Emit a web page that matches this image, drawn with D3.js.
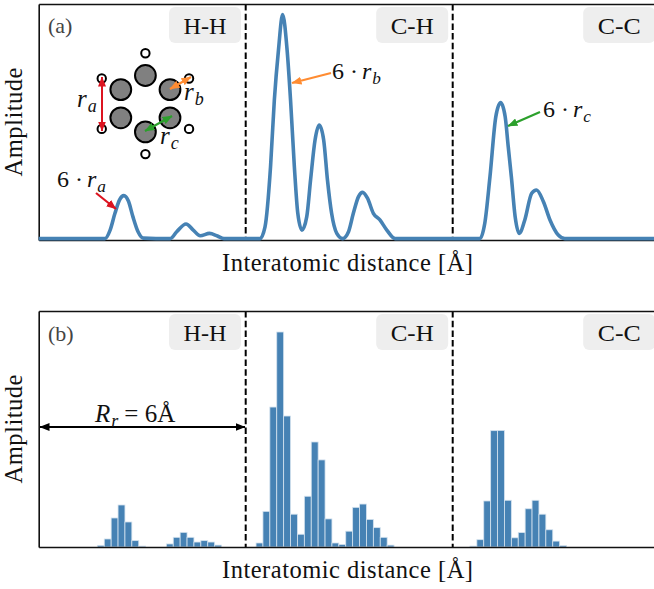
<!DOCTYPE html>
<html>
<head>
<meta charset="utf-8">
<script src="https://cdn.jsdelivr.net/npm/d3@7"></script>
<style>
  html, body { margin: 0; padding: 0; background: #fff; overflow: hidden; }
  text { font-family: "Liberation Serif", serif; fill: #111; }
</style>
</head>
<body>
<svg id="main" width="654" height="589"></svg>
<script>
// smooth spectrum (distance in angstrom, amplitude 0..1)
var curveDistance = [0, 1.0, 1.92, 2.07, 2.21, 2.34, 2.47, 2.60, 2.73, 2.88, 3.03, 3.4,
    3.81, 4.0, 4.27, 4.48, 4.68, 4.95, 5.18, 5.37, 5.9,
    6.415, 6.56, 6.72, 6.83, 6.95, 7.07, 7.2, 7.30, 7.41, 7.51, 7.63, 7.77, 7.88, 8.01, 8.13, 8.26, 8.37, 8.49, 8.64, 8.81,
    8.98, 9.12, 9.27, 9.39, 9.53, 9.7, 9.89, 10.09, 10.33, 11.5,
    12.79, 12.93, 13.08, 13.25, 13.39, 13.52, 13.61, 13.70, 13.81, 13.93, 14.09, 14.29, 14.43, 14.63, 14.82, 15.06, 15.25, 16.5, 18];
var curveAmplitude = [0.006, 0.006, 0.006, 0.042, 0.113, 0.169, 0.188, 0.165, 0.099, 0.035, 0.008, 0.006,
    0.006, 0.035, 0.068, 0.042, 0.018, 0.028, 0.017, 0.006, 0.006,
    0.006, 0.056, 0.311, 0.593, 0.805, 0.955, 0.805, 0.593, 0.311, 0.113, 0.042, 0.099, 0.254, 0.424, 0.487, 0.424, 0.254, 0.113, 0.028, 0.006,
    0.035, 0.113, 0.184, 0.202, 0.177, 0.113, 0.085, 0.042, 0.006, 0.006,
    0.006, 0.071, 0.268, 0.523, 0.582, 0.523, 0.395, 0.268, 0.099, 0.028, 0.085, 0.198, 0.212, 0.162, 0.085, 0.021, 0.006, 0.006, 0.006];

// histogram runs for the bottom panel, bins are 0.2 wide
var binWidth = 0.2;
var hhNearStart = 1.7;
var hhNear = [0.007, 0.034, 0.123, 0.178, 0.106, 0.027, 0.004];
var hhFarStart = 3.7;
var hhFar = [0.013, 0.041, 0.062, 0.041, 0.021, 0.027, 0.021, 0.008];
var chStart = 6.3;
var chBins = [0.017, 0.151, 0.593, 0.911, 0.555, 0.139, 0.054, 0.215, 0.445, 0.369, 0.119, 0.017, 0.011, 0.067, 0.168, 0.182, 0.117, 0.082, 0.041, 0.008];
var ccStart = 12.5;
var ccBins = [0.004, 0.031, 0.195, 0.493, 0.494, 0.198, 0.039, 0.061, 0.162, 0.198, 0.139, 0.073, 0.025, 0.006];

var pairLabels = ["H-H", "C-H", "C-C"];
var cutoffs = [6, 12];
var badgeEnds = [5.865, 11.87, 17.87];
var xLabel = "Interatomic distance [Å]";
var yLabel = "Amplitude";

var RED = "#dc1420", ORANGE = "#ff8c32", GREEN = "#2ca02c", BLUE = "#4682b4";

var svg = d3.select("#main");
var x = d3.scaleLinear().domain([0, 18]).range([38.7, 659.7]);
var yTop = d3.scaleLinear().domain([0, 1]).range([240, 4]);
var yBottom = d3.scaleLinear().domain([0, 1]).range([547, 311]);

// arrow heads, matplotlib style
var defs = svg.append("defs");
[["red", RED], ["orange", ORANGE], ["green", GREEN], ["black", "#000"]].forEach(function(d) {
    defs.append("marker")
        .attr("id", "head-" + d[0])
        .attr("viewBox", "0 0 10 8")
        .attr("refX", 9.5).attr("refY", 4)
        .attr("markerUnits", "userSpaceOnUse")
        .attr("markerWidth", 10).attr("markerHeight", 8)
        .attr("orient", "auto-start-reverse")
        .append("path").attr("d", "M0,0 L10,4 L0,8 Z").attr("fill", d[1]);
});

function arrow(x1, y1, x2, y2, name, color, both, width) {
    var a = svg.append("line")
        .attr("x1", x1).attr("y1", y1).attr("x2", x2).attr("y2", y2)
        .attr("stroke", color).attr("stroke-width", width || 2)
        .attr("marker-end", "url(#head-" + name + ")");
    if (both) a.attr("marker-start", "url(#head-" + name + ")");
}

// text with an italic math part and a subscript
function mathLabel(px, py, size, prefix, symbol, sub) {
    var t = svg.append("text").attr("x", px).attr("y", py).attr("font-size", size);
    if (prefix) t.append("tspan").attr("xml:space", "preserve").text(prefix);
    t.append("tspan").attr("font-style", "italic").attr("dx", prefix ? 4 : 0).text(symbol);
    t.append("tspan").attr("font-style", "italic").attr("font-size", size * 0.72).attr("dy", size * 0.2).attr("dx", 1).text(sub);
    return t;
}

function panelFrame(y, tag, tagY, labelY) {
    var top = y.range()[1], bottom = y.range()[0];

    pairLabels.forEach(function(name, i) {
        var right = x(badgeEnds[i]);
        svg.append("rect")
            .attr("x", right - 72).attr("y", top + 3)
            .attr("width", 72).attr("height", 36).attr("rx", 6)
            .attr("fill", "#eeeeee");
        svg.append("text")
            .attr("x", right - 36).attr("y", top + 29.5)
            .attr("text-anchor", "middle").attr("font-size", 24)
            .attr("textLength", 43).attr("lengthAdjust", "spacingAndGlyphs")
            .text(name);
    });

    svg.selectAll(null).data(cutoffs).join("line")
        .attr("x1", function(d) { return x(d); }).attr("x2", function(d) { return x(d); })
        .attr("y1", top).attr("y2", bottom)
        .attr("stroke", "#000").attr("stroke-width", 2).attr("stroke-dasharray", "6.5,3.2");

    svg.append("text").attr("x", 48).attr("y", tagY).attr("font-size", 22).style("fill", "#444").text(tag);

    svg.append("text")
        .attr("x", 347.5).attr("y", labelY)
        .attr("text-anchor", "middle").attr("font-size", 24.5)
        .attr("textLength", 251).attr("lengthAdjust", "spacing")
        .text(xLabel);
    svg.append("text")
        .attr("transform", "translate(22," + ((top + bottom) / 2) + ") rotate(-90)")
        .attr("text-anchor", "middle").attr("font-size", 24.5)
        .attr("textLength", 109).attr("lengthAdjust", "spacing")
        .text(yLabel);
}

function panelAxes(y) {
    var bottomAxis = d3.axisBottom(x).tickValues([]).tickSizeOuter(0);
    var topAxis = d3.axisTop(x).tickValues([]).tickSizeOuter(0);
    var leftAxis = d3.axisLeft(y).tickValues([]).tickSizeOuter(0);
    var groups = [
        svg.append("g").attr("transform", "translate(0," + y.range()[0] + ")").call(bottomAxis),
        svg.append("g").attr("transform", "translate(0," + y.range()[1] + ")").call(topAxis),
        svg.append("g").attr("transform", "translate(" + x.range()[0] + ",0)").call(leftAxis)
    ];
    groups.forEach(function(g) { g.select(".domain").attr("stroke", "#111").attr("stroke-width", 1.6); });
}

// panel (a)
panelFrame(yTop, "(a)", 33, 271);
var line = d3.line()
    .x(function(d, i) { return x(curveDistance[i]); })
    .y(function(d) { return yTop(d); })
    .curve(d3.curveMonotoneX);
panelAxes(yTop);
svg.append("path")
    .attr("d", line(curveAmplitude))
    .attr("fill", "none").attr("stroke", BLUE).attr("stroke-width", 3.6).attr("stroke-linejoin", "round");

// panel (b)
panelFrame(yBottom, "(b)", 341, 578);
function bars(start, values) {
    svg.append("g").selectAll("rect").data(values).join("rect")
        .attr("x", function(d, i) { return x(start + i * binWidth); })
        .attr("width", x(binWidth) - x(0))
        .attr("y", function(d) { return yBottom(d); })
        .attr("height", function(d) { return yBottom(0) - yBottom(d); })
        .attr("fill", BLUE).attr("stroke", "#d5e3ef").attr("stroke-width", 0.8);
}
bars(hhNearStart, hhNear);
bars(hhFarStart, hhFar);
bars(chStart, chBins);
bars(ccStart, ccBins);
panelAxes(yBottom);

// benzene sketch
var ringAngles = [90, 30, -30, -90, -150, 150];
var ringCx = 145.4, ringCy = 103.7;
ringAngles.forEach(function(a) {
    var r = a * Math.PI / 180;
    svg.append("circle")
        .attr("cx", ringCx + 28.4 * Math.cos(r)).attr("cy", ringCy - 28.2 * Math.sin(r)).attr("r", 10.4)
        .attr("fill", "#808080").attr("stroke", "#000").attr("stroke-width", 2);
    svg.append("circle")
        .attr("cx", ringCx + 50.4 * Math.cos(r)).attr("cy", ringCy - 50.4 * Math.sin(r)).attr("r", 4.2)
        .attr("fill", "#fff").attr("stroke", "#000").attr("stroke-width", 2);
});
arrow(102, 77, 102, 131, "red", RED, true, 2);
arrow(170, 89, 191, 77, "orange", ORANGE, true, 2.2);
arrow(145, 131, 172, 116, "green", GREEN, true, 2.2);
mathLabel(77, 107, 25, "", "r", "a");
mathLabel(184, 100, 25, "", "r", "b");
mathLabel(160, 144, 25, "", "r", "c");

// annotations
mathLabel(57, 187, 24, "6 ·", "r", "a");
arrow(96, 193, 116, 209, "red", RED, false, 2.2);
mathLabel(332, 79, 24, "6 ·", "r", "b");
arrow(331, 73, 292, 83, "orange", ORANGE, false, 2.2);
mathLabel(543, 117, 24, "6 ·", "r", "c");
arrow(540, 112, 508, 126, "green", GREEN, false, 2.2);

// range arrow in panel (b)
arrow(40, 427, 245, 427, "black", "#000", true, 1.8);
var rr = mathLabel(95, 422, 25, "", "R", "r");
rr.append("tspan").attr("dy", -25 * 0.2).attr("dx", 6).attr("font-size", 25).text("= 6Å");
</script>
</body>
</html>
